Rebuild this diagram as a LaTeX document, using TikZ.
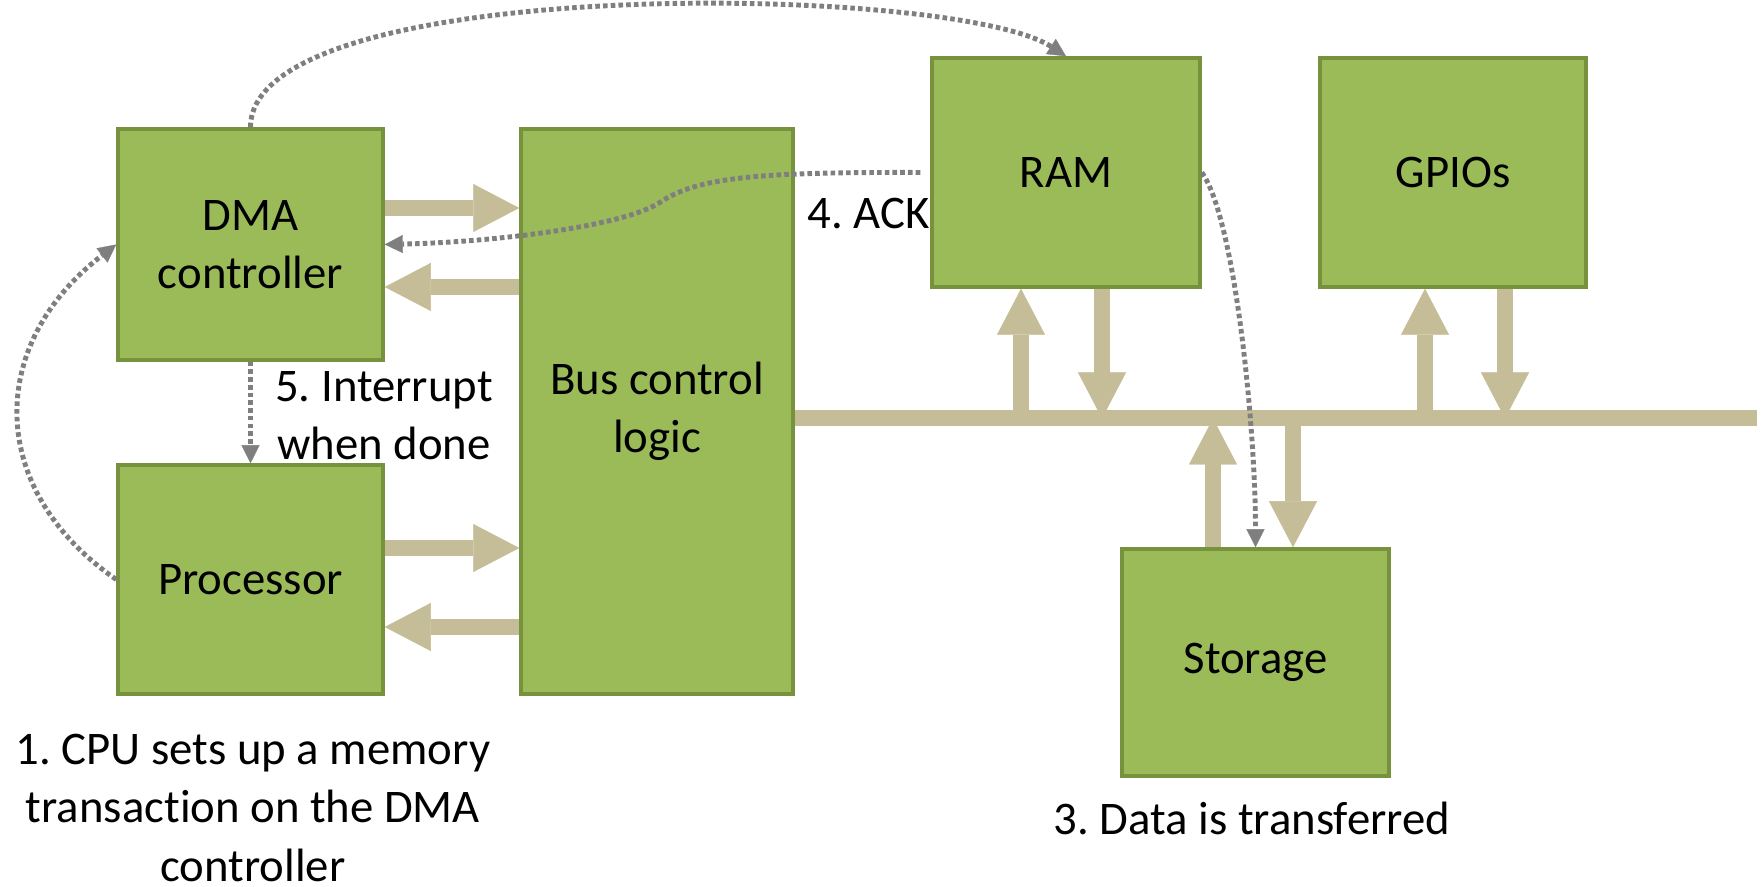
\documentclass[tikz,border=0pt]{standalone}
\usepackage{fontspec}
\setmainfont{Carlito}[Ligatures={NoCommon}]
\usepackage{tikz}
\usetikzlibrary{arrows.meta}
\definecolor{boxfill}{HTML}{9BBB59}
\definecolor{boxline}{HTML}{76923C}
\definecolor{busfill}{HTML}{C4BD97}
\definecolor{sigline}{HTML}{7F7F7F}
\frenchspacing

\begin{document}
\begin{tikzpicture}[
    font=\fontsize{13.3}{16.6}\selectfont,
    unit/.style={draw=boxline, fill=boxfill, line width=1pt, align=center, inner sep=0pt},
    busline/.style={busfill, line width=1.6mm},
    busarrow/.style={busline, -{Triangle[length=4.6mm, width=4.8mm, line width=0.1pt]}},
    signal/.style={sigline, line width=1.4pt, dash pattern=on 1.3pt off 0.9pt,
      -{Triangle[length=1.8mm, width=1.8mm, line width=0.1pt]}},
    note/.style={align=center, inner sep=0pt}
  ]
    \useasboundingbox (0, 0) rectangle (17.64, 8.87);

    % units
    \node [unit, minimum width=2.65cm, minimum height=2.31cm] (dma) at (2.505, 6.425) {DMA\\controller};
    \node [unit, minimum width=2.65cm, minimum height=2.29cm] (proc) at (2.505, 3.075) {Processor};
    \node [unit, minimum width=2.72cm, minimum height=5.65cm] (bus) at (6.57, 4.755) {Bus control\\logic};
    \node [unit, minimum width=2.68cm, minimum height=2.29cm] (ram) at (10.66, 7.145) {RAM};
    \node [unit, minimum width=2.66cm, minimum height=2.29cm] (gpio) at (14.53, 7.145) {GPIOs};
    \node [unit, minimum width=2.67cm, minimum height=2.27cm] (storage) at (12.555, 2.245) {Storage};

    % system bus
    \coordinate (busend) at (17.57, 4.685);
    \draw [busline] (bus.east |- busend) -- (busend);

    % data paths to the bus controller
    \draw [busarrow] ([yshift=3.65mm]dma.east) -- ([yshift=3.65mm]dma.east -| bus.west);
    \draw [busarrow] ([yshift=-4.25mm]dma.east -| bus.west) -- ([yshift=-4.25mm]dma.east);
    \draw [busarrow] ([yshift=3.15mm]proc.east) -- ([yshift=3.15mm]proc.east -| bus.west);
    \draw [busarrow] ([yshift=-4.75mm]proc.east -| bus.west) -- ([yshift=-4.75mm]proc.east);

    % data paths on the bus
    \draw [busarrow] ([xshift=-4.5mm]ram.south |- busend) -- ([xshift=-4.5mm]ram.south);
    \draw [busarrow] ([xshift=3.6mm]ram.south) -- ([xshift=3.6mm]ram.south |- busend);
    \draw [busarrow] ([xshift=-2.8mm]gpio.south |- busend) -- ([xshift=-2.8mm]gpio.south);
    \draw [busarrow] ([xshift=5.2mm]gpio.south) -- ([xshift=5.2mm]gpio.south |- busend);
    \draw [busarrow] ([xshift=-4.25mm]storage.north) -- ([xshift=-4.25mm]storage.north |- busend);
    \draw [busarrow] ([xshift=3.75mm, yshift=0.3mm]storage.north |- busend) -- ([xshift=3.75mm]storage.north);

    % signals
    \draw [signal] (proc.west) .. controls +(-1.3, 0.9) and +(-1.3, -1.0) .. (dma.west);
    \draw [signal] (dma.north) .. controls +(0, 1.54) and +(-1.13, 0.73) .. (ram.north);
    \draw [signal] (ram.east) .. controls +(0.33, -0.45) and +(0, 1.2) .. (storage.north);
    \draw [signal] ([xshift=-1mm]ram.west)
        .. controls (7.6, 7.15) and (7.0, 7.1) .. (6.62, 6.86)
        .. controls (6.3, 6.62) and (5.0, 6.45) .. (dma.east);
    \draw [signal] (dma.south) -- (proc.north);

    % steps
    \node [note] (setup) at (2.53, 0.79) {1. CPU sets up a memory\\transaction on the DMA\\controller};
    \node [note] (xfer) at (12.52, 0.69) {3. Data is transferred};
    \node [note, anchor=east] (ack) at ([yshift=-4.15mm]ram.west) {4. ACK};
    \node [note] (irq) at (3.84, 4.71) {5. Interrupt\\when done};
\end{tikzpicture}
\end{document}
